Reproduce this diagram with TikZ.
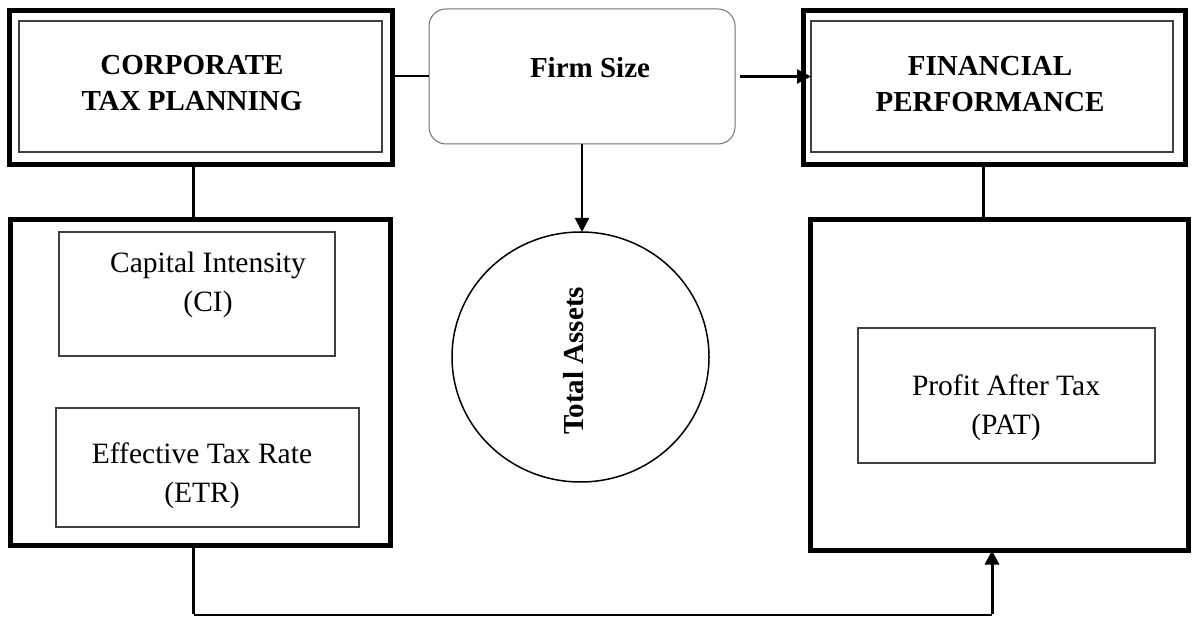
\documentclass[tikz,border=0pt]{standalone}
\usepackage{fontspec}
\setmainfont{Liberation Serif}
\usetikzlibrary{arrows.meta,shapes.geometric}
\begin{document}
\begin{tikzpicture}[x=1pt,y=-1pt,
  outerbox/.style={draw=black,line width=5pt,inner sep=0pt,outer sep=0pt},
  innerbox/.style={draw=black!75,line width=1.1pt,inner sep=0pt,outer sep=0pt},
  fsbox/.style={draw=black!55,line width=1pt,rounded corners=17pt,inner sep=0pt,outer sep=0pt},
  title/.style={font=\fontsize{29}{36}\selectfont\bfseries,align=center,inner sep=0pt},
  label/.style={font=\fontsize{29.5}{39}\selectfont,align=center,inner sep=0pt},
  tip/.style={-{Triangle[length=14pt,width=14pt]}},
  conn/.style={line width=2pt}]
\path[fill=white,use as bounding box] (0,0) rectangle (1192,617);

% top boxes
\node[outerbox,minimum width=383pt,minimum height=154pt] (ctp) at (201,87.5) {};
\node[innerbox,minimum width=363pt,minimum height=131pt] (ctpi) at (200.5,86.5) {};
\node[title,anchor=base] (ctpt) at (192,111) {CORPORATE\\TAX PLANNING};

\node[outerbox,minimum width=382pt,minimum height=154pt] (fp) at (994.5,87.5) {};
\node[innerbox,minimum width=362pt,minimum height=131pt] (fpi) at (992,86.5) {};
\node[title,anchor=base] (fpt) at (990,112) {FINANCIAL\\PERFORMANCE};

\node[fsbox,minimum width=306pt,minimum height=135pt] (fs) at (582,76.5) {};
\node[title,anchor=base] (fst) at (590,78) {Firm Size};

% lower boxes
\node[outerbox,minimum width=380pt,minimum height=326pt] (lb) at (200.5,382.5) {};
\node[innerbox,minimum width=276pt,minimum height=124pt] (ci) at (197,294) {};
\node[label,anchor=base] (cit) at (208,312) {Capital Intensity\\(CI)};
\node[innerbox,minimum width=303pt,minimum height=119pt] (etr) at (207.5,467.5) {};
\node[label,anchor=base] (etrt) at (202,502) {Effective Tax Rate\\(ETR)};

\node[outerbox,minimum width=378pt,minimum height=331pt] (rb) at (999.5,385) {};
\node[innerbox,minimum width=297pt,minimum height=135pt] (pat) at (1006.5,395.5) {};
\node[label,anchor=base] (patt) at (1006,435) {Profit After Tax\\(PAT)};

% circle
\node[ellipse,draw=black,line width=1.5pt,minimum width=257pt,minimum height=250pt,inner sep=0pt,outer sep=0pt] (ta) at (580.5,357) {};
\node[title,rotate=90,anchor=base] (tat) at (583,361) {Total Assets};

% helper coordinates
\coordinate (c1) at (193.5,0);
\coordinate (c2) at (983.5,0);
\coordinate (bl) at (193.5,615);
\coordinate (br) at (992,615);

% connectors
\draw[conn] (fs.west -| ctp.east) -- (fs.west);
\draw[conn,line width=2.2pt,tip] ([xshift=5pt]fs.east) -- (fs.east -| fpi.west);
\draw[conn,tip] (fs.south) -- (fs.south |- ta.north);
\draw[line width=3pt] (ctp.south -| c1) -- (lb.north -| c1);
\draw[line width=3pt] (fp.south -| c2) -- (rb.north -| c2);
\draw[line width=3pt] (lb.south -| bl) -- ([yshift=1.5pt]bl);
\draw[line width=1.5pt] (bl) -- (br);
\draw[line width=3pt,tip] ([yshift=1.5pt]br) -- (rb.south -| br);
\end{tikzpicture}
\end{document}
